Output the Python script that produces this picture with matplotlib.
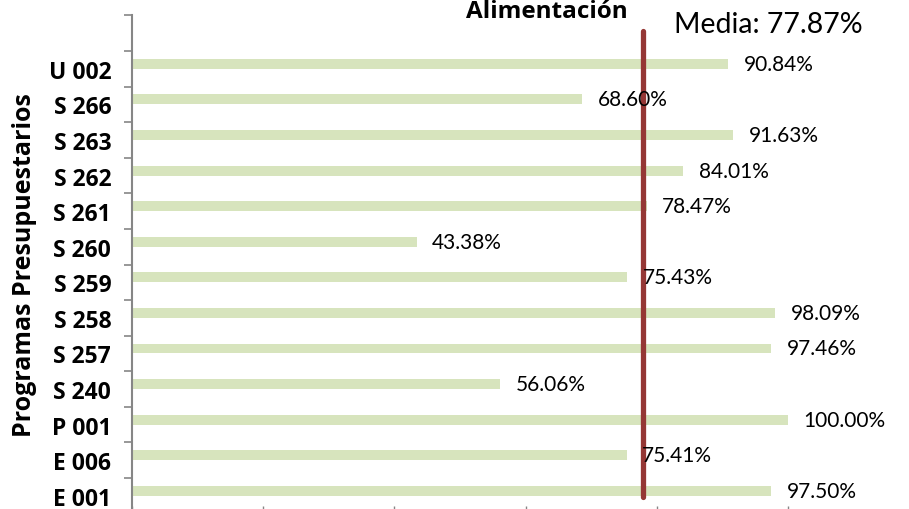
import matplotlib
matplotlib.use("Agg")
import matplotlib.pyplot as plt

categories = ["E 001", "E 006", "P 001", "S 240", "S 257", "S 258", "S 259",
              "S 260", "S 261", "S 262", "S 263", "S 266", "U 002"]
values = [97.50, 75.41, 100.00, 56.06, 97.46, 98.09, 75.43,
          43.38, 78.47, 84.01, 91.63, 68.60, 90.84]
media = 77.87
title = "Alimentación"
ylabel = "Programas Presupuestarios"

FONT = ["Lato", "DejaVu Sans"]
BOLD = ["Open Sans", "DejaVu Sans"]
plt.rcParams["font.family"] = FONT

fig = plt.figure(figsize=(9.09, 5.10), dpi=100)
ax = fig.add_axes([132/909, (510-514.6)/510, 787/909, (514.6-16.4)/510])

pos = list(range(len(categories)))
bar_h = 0.28
ax.barh([p + 0.14 for p in pos], values, height=bar_h, color="#D7E4BD", zorder=2)

for p, v in zip(pos, values):
    ax.text(v + 2.4, p + 0.14, f"{v:.2f}%", ha="left", va="center",
            fontsize=15, color="#000000", zorder=4)

ax.plot([media, media], [-0.03, 13.06], color="#953735", lw=3.8,
        solid_capstyle="round", zorder=3, clip_on=False)

ax.text(82.6, 13.25, f"Media: {media:.2f}%", ha="left", va="center",
        fontsize=20.5, color="#000000", clip_on=False)
ax.text(63.3, 13.45, title, ha="center", va="baseline", fontsize=17.5,
        fontweight="bold", family=BOLD, clip_on=False)

ax.set_xlim(0, 120)
ax.set_ylim(-0.5, 13.5)
ax.set_yticks(pos)
ax.set_yticklabels(categories, fontsize=16.5, fontweight="bold", family=BOLD)
ax.set_yticks([p - 0.5 for p in range(len(categories) + 2)], minor=True)
ax.tick_params(axis="y", which="major", length=0, pad=15)
ax.tick_params(axis="y", which="minor", length=6, width=1.2, color="#868686", direction="out")
ax.set_xticks([0, 20, 40, 60, 80, 100, 120])
ax.set_xticklabels([])
ax.tick_params(axis="x", length=12, width=1, color="#868686", direction="inout")

for s in ["top", "right", "bottom"]:
    ax.spines[s].set_visible(False)
ax.spines["left"].set_color("#868686")
ax.spines["left"].set_linewidth(1.5)

fig.text(25/909, 1 - 265/510, ylabel, rotation=90, ha="center", va="center",
         fontsize=18, fontweight="bold", family=BOLD)

fig.savefig("out.png", dpi=100)
